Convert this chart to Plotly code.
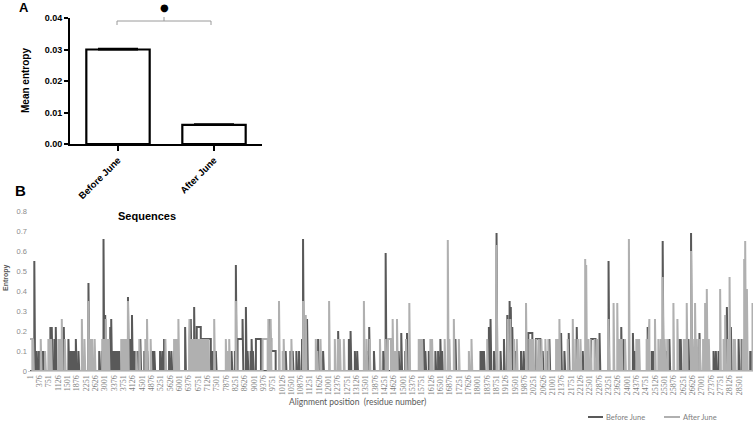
import numpy as np
import plotly.graph_objects as go

W, H = 753, 422

# ---------------- Panel A data ----------------
groups = ["Before June", "After June"]
mean_entropy = [0.0300, 0.0061]
sem_entropy = [0.0002, 0.0002]

# ---------------- Panel B data ----------------
# Before June: spike positions (residue numbers) and entropy values
before_pos = [174, 270, 364, 444, 525, 578, 819, 875, 980, 1036, 1250, 1359, 1545, 1613, 1694,
              1774, 1843, 1948, 2350, 2782, 2890, 2955, 3023, 3225, 3265, 3346, 3427, 3507, 3588,
              3696, 3938, 4031, 4099, 4152, 4232, 4333, 4434, 4595, 4716,
              4918, 4998, 5228, 5320, 5389, 5590, 5683, 5792, 6235, 6461, 6598, 7348, 7469,
              8101, 8235, 8275, 8544, 8678, 8746, 8867, 8907, 8960, 9257,
              9633, 10277, 10466, 10559, 10707, 10814, 10935, 10975, 11136, 11580, 11781, 12386,
              12817, 12885, 13058, 13151, 13541, 13634, 13824, 14199, 14295,
              14818, 14923, 15085, 15154, 15827, 15891, 16028, 16294, 16403, 16495, 16564, 17100,
              18108, 18176, 18245, 18445, 18511, 18647, 18752, 18913, 19050, 19184, 19277, 19325,
              19385, 19425, 19518,
              19735, 19842, 20607, 20808, 20876, 21347, 21480, 21654, 21976, 22218, 22891, 23254,
              23765, 23870, 24233, 24302,
              24451, 24826, 24987, 25055, 25430, 25592, 25700, 26103, 26156, 26466, 26570, 26909,
              27473, 27566, 27674, 28010, 28171, 28481, 28602, 28949, 29017]
before_val = [0.55, 0.10, 0.10, 0.10, 0.10, 0.10, 0.22, 0.22, 0.16, 0.22, 0.10, 0.22, 0.16, 0.10, 0.10,
              0.10, 0.16, 0.10, 0.44, 0.10, 0.10, 0.66, 0.28, 0.22, 0.26, 0.10, 0.10, 0.10, 0.10,
              0.10, 0.37, 0.16, 0.28, 0.10, 0.10, 0.10, 0.16, 0.10, 0.10,
              0.10, 0.10, 0.10, 0.10, 0.16, 0.10, 0.10, 0.10, 0.22, 0.26, 0.32, 0.10, 0.10,
              0.10, 0.10, 0.53, 0.26, 0.32, 0.10, 0.10, 0.16, 0.10, 0.10,
              0.26, 0.10, 0.10, 0.10, 0.10, 0.10, 0.16, 0.66, 0.26, 0.16, 0.10, 0.20,
              0.16, 0.20, 0.10, 0.10, 0.10, 0.22, 0.10, 0.10, 0.59,
              0.10, 0.19, 0.10, 0.19, 0.16, 0.10, 0.10, 0.10, 0.10, 0.16, 0.10, 0.16,
              0.10, 0.10, 0.10, 0.22, 0.26, 0.10, 0.69, 0.10, 0.16, 0.28, 0.35, 0.32,
              0.22, 0.16, 0.10,
              0.10, 0.10, 0.10, 0.10, 0.16, 0.19, 0.10, 0.19, 0.22, 0.10, 0.19, 0.55,
              0.22, 0.16, 0.19, 0.10,
              0.10, 0.22, 0.10, 0.10, 0.65, 0.10, 0.16, 0.16, 0.16, 0.16, 0.69, 0.19,
              0.10, 0.10, 0.10, 0.32, 0.22, 0.16, 0.16, 0.10, 0.10]
# Before June: stretches of consecutive positions with constant entropy
before_run_start = [6703, 6864, 8343, 9081, 9620, 9701, 20030, 20339, 22556]
before_run_end = [6864, 7267, 8544, 9282, 9700, 9874, 20191, 20513, 22730]
before_run_val = [0.22, 0.16, 0.16, 0.16, 0.16, 0.10, 0.19, 0.16, 0.16]

# After June: spike positions and entropy values
after_pos = [1, 41, 82, 122, 432, 606, 739, 807, 847, 1141, 1210, 1278, 1290, 1400, 2085, 2189,
             2350, 2419, 2500, 2600, 2903, 2983, 3044, 3104, 3164, 3668, 3749, 3830, 3890, 3938,
             4273, 4394, 4636, 4704,
             4849, 5442, 5792, 5845, 5925, 5965, 6396, 6409, 6450, 6530, 6611, 6691, 6772, 6852,
             6933, 7013, 7094, 7174, 7404, 7871, 7939, 8008, 8275, 9580, 9673,
             10008, 10036, 10157, 10197, 10507, 10975, 11084, 11487, 11548, 11676, 12022, 12252,
             12373, 12454, 12615, 13421, 13529, 13650, 14066, 14295, 14577,
             14670, 14751, 15113, 15246, 15625, 15698, 15759, 16093, 16161, 16667, 16793, 16857,
             17036, 17237, 17640, 17745, 18377, 18752, 19203, 19305, 19453,
             19466, 19567, 19937, 20071, 20151, 20232, 20353, 20454, 20554, 20715, 20836, 21146,
             21219, 21279, 21299, 21614, 21816, 21924, 22025, 22126, 22315, 22355, 22428, 22529,
             22690, 22811, 23254, 23456, 23604, 23697, 23777, 23918, 24072, 24370,
             24402, 24483, 24785, 24866, 24894, 25120, 25257, 25350, 25430, 25511, 25612, 25861,
             26022, 26276, 26357, 26397, 26570, 26639, 26731, 26800, 26921, 27054, 27135, 27203,
             27284, 27739, 27876, 27941, 28050, 28118, 28279, 28332, 28642, 28706, 28746, 28815,
             28823, 29040]
after_val = [0.16, 0.16, 0.16, 0.16, 0.16, 0.10, 0.16, 0.16, 0.16, 0.16, 0.16, 0.26, 0.16, 0.16, 0.26, 0.16,
             0.35, 0.16, 0.16, 0.16, 0.16, 0.16, 0.26, 0.16, 0.16, 0.16, 0.16, 0.16, 0.16, 0.35,
             0.10, 0.16, 0.16, 0.26,
             0.16, 0.16, 0.16, 0.16, 0.16, 0.26, 0.16, 0.26, 0.16, 0.16, 0.16, 0.16, 0.16, 0.16,
             0.16, 0.16, 0.16, 0.16, 0.26, 0.16, 0.10, 0.16, 0.35, 0.26, 0.26,
             0.35, 0.10, 0.10, 0.16, 0.16, 0.35, 0.28, 0.16, 0.10, 0.16, 0.35, 0.16,
             0.16, 0.16, 0.16, 0.35, 0.16, 0.16, 0.16, 0.16, 0.26,
             0.10, 0.26, 0.16, 0.34, 0.16, 0.16, 0.16, 0.16, 0.16, 0.16, 0.655, 0.16,
             0.26, 0.16, 0.10, 0.16, 0.16, 0.63, 0.26, 0.26, 0.16,
             0.16, 0.16, 0.34, 0.16, 0.16, 0.16, 0.16, 0.16, 0.16, 0.16, 0.16, 0.16,
             0.16, 0.26, 0.16, 0.16, 0.26, 0.16, 0.16, 0.16, 0.56, 0.53, 0.16, 0.16,
             0.16, 0.16, 0.26, 0.34, 0.34, 0.16, 0.16, 0.16, 0.66, 0.16,
             0.16, 0.16, 0.16, 0.16, 0.26, 0.26, 0.16, 0.16, 0.47, 0.16, 0.16, 0.34,
             0.26, 0.16, 0.16, 0.34, 0.60, 0.16, 0.34, 0.16, 0.16, 0.16, 0.34, 0.41,
             0.16, 0.41, 0.16, 0.28, 0.16, 0.47, 0.16, 0.16, 0.16, 0.56, 0.65, 0.41,
             0.16, 0.34]
after_run_start = [1, 9351, 14388]
after_run_end = [94, 9552, 14509]
after_run_val = [0.16, 0.16, 0.16]

n_positions = 29060
tick_positions = list(range(1, 28877, 375))
tick_labels = [str(p) for p in tick_positions]
entropy_ticks = [0, 0.1, 0.2, 0.3, 0.4, 0.5, 0.6, 0.7, 0.8]
entropy_tick_labels = ["0", "0.1", "0.2", "0.3", "0.4", "0.5", "0.6", "0.7", "0.8"]


def build_profile(pos, val, rs, re_, rv):
    y = np.zeros(n_positions + 1)
    for s, e, v in zip(rs, re_, rv):
        y[s:e + 1] = np.maximum(y[s:e + 1], v)
    for p, v in zip(pos, val):
        y[p] = max(y[p], v)
    return y[1:]


x_all = np.arange(1, n_positions + 1)
before_y = build_profile(before_pos, before_val, before_run_start, before_run_end, before_run_val)
after_y = build_profile(after_pos, after_val, after_run_start, after_run_end, after_run_val)


def px(x):
    return x / W


def py(y):
    return 1 - y / H


DARK = "#595959"
LIGHT = "#b0b0b0"

fig = go.Figure()

# Panel A bars
fig.add_trace(go.Bar(
    x=groups, y=mean_entropy, width=0.66,
    marker=dict(color="white", line=dict(color="black", width=2.2)),
    error_y=dict(type="data", array=sem_entropy, arrayminus=[0, 0], color="black",
                 thickness=2, width=20),
    xaxis="x", yaxis="y", showlegend=False, hoverinfo="skip",
))

# Panel B lines
fig.add_trace(go.Scatter(
    x=x_all, y=before_y, mode="lines", name="Before June",
    line=dict(color=DARK, width=2), xaxis="x2", yaxis="y2", showlegend=False,
    hoverinfo="skip",
))
fig.add_trace(go.Scatter(
    x=x_all, y=after_y, mode="lines", name="After June",
    line=dict(color=LIGHT, width=2), xaxis="x2", yaxis="y2", showlegend=False,
    hoverinfo="skip",
))

fig.update_layout(
    width=W, height=H, autosize=False,
    margin=dict(l=0, r=0, t=0, b=0, autoexpand=False),
    paper_bgcolor="white", plot_bgcolor="white",
    xaxis=dict(
        domain=[px(70), px(262)], anchor="y", type="category", range=[-0.5, 1.5],
        showline=True, linecolor="black", linewidth=2, ticks="outside", ticklen=5,
        tickwidth=1.5, tickcolor="black", tickangle=-45, showgrid=False,
        tickfont=dict(family="Liberation Sans", size=9.5, color="black", weight="bold"),
    ),
    yaxis=dict(
        domain=[py(144), py(18)], anchor="x", range=[0, 0.04],
        tickvals=[0, 0.01, 0.02, 0.03, 0.04], ticktext=["0.00", "0.01", "0.02", "0.03", "0.04"],
        showline=True, linecolor="black", linewidth=2, ticks="outside", ticklen=4,
        tickwidth=1.5, tickcolor="black", showgrid=False, zeroline=False,
        tickfont=dict(family="Liberation Sans", size=9, color="black", weight="bold"),
    ),
    xaxis2=dict(
        domain=[px(28), 1.0], anchor="y2", range=[-80, 29060],
        tickvals=tick_positions, ticktext=tick_labels, tickangle=-90,
        showline=True, linecolor="#d0d0d0", linewidth=1, ticks="", showgrid=False,
        zeroline=False,
        tickfont=dict(family="Liberation Serif", size=8, color="#808080"),
    ),
    yaxis2=dict(
        domain=[py(371), py(211)], anchor="x2", range=[0, 0.8],
        tickvals=entropy_ticks, ticktext=entropy_tick_labels,
        showline=False, ticks="", showgrid=False, zeroline=False,
        tickfont=dict(family="Liberation Sans", size=7.5, color="#8c8c8c"),
    ),
)

annotations = [
    dict(text="<b>A</b>", x=px(24), y=py(8), font=dict(family="Liberation Sans", size=13, color="black")),
    dict(text="<b>B</b>", x=px(20), y=py(190), font=dict(family="Liberation Sans", size=15, color="black")),
    dict(text="<b>Mean entropy</b>", x=px(25), y=py(81), textangle=-90,
         font=dict(family="Liberation Sans", size=10, color="black")),
    dict(text="<b>Sequences</b>", x=px(147), y=py(216),
         font=dict(family="Liberation Sans", size=11, color="black")),
    dict(text="●", x=px(164), y=py(7), font=dict(family="DejaVu Sans", size=10, color="black")),
    dict(text="<b>Entropy</b>", x=px(6), y=py(278), textangle=-90,
         font=dict(family="Liberation Sans", size=7, color="#595959")),
    dict(text="Alignment position  (residue number)", x=px(357), y=py(402),
         font=dict(family="Lato", size=8.5, color="#595959")),
    dict(text="Before June", x=px(604), y=py(417), xanchor="left",
         font=dict(family="Lato", size=7.5, color="#808080")),
    dict(text="After June", x=px(681), y=py(417), xanchor="left",
         font=dict(family="Lato", size=7.5, color="#808080")),
]
for a in annotations:
    a.setdefault("xanchor", "center")
    a.update(xref="paper", yref="paper", yanchor="middle", showarrow=False)
fig.update_layout(annotations=annotations)

shapes = [
    # significance bracket
    dict(type="line", x0=px(117), x1=px(211), y0=py(21), y1=py(21), line=dict(color="#9a9a9a", width=1)),
    dict(type="line", x0=px(117), x1=px(117), y0=py(21), y1=py(25), line=dict(color="#9a9a9a", width=1)),
    dict(type="line", x0=px(211), x1=px(211), y0=py(21), y1=py(25), line=dict(color="#9a9a9a", width=1)),
    dict(type="line", x0=px(164), x1=px(164), y0=py(21), y1=py(17), line=dict(color="#9a9a9a", width=1)),
    # legend samples
    dict(type="line", x0=px(588), x1=px(603), y0=py(417), y1=py(417), line=dict(color=DARK, width=2)),
    dict(type="line", x0=px(664), x1=px(680), y0=py(417), y1=py(417), line=dict(color=LIGHT, width=2)),
]
for s in shapes:
    s.update(xref="paper", yref="paper")
fig.update_layout(shapes=shapes)

fig.write_html(
    "out.html",
    config={"displayModeBar": False},
    post_script="document.body.style.margin='0';document.body.style.overflow='hidden';",
)
